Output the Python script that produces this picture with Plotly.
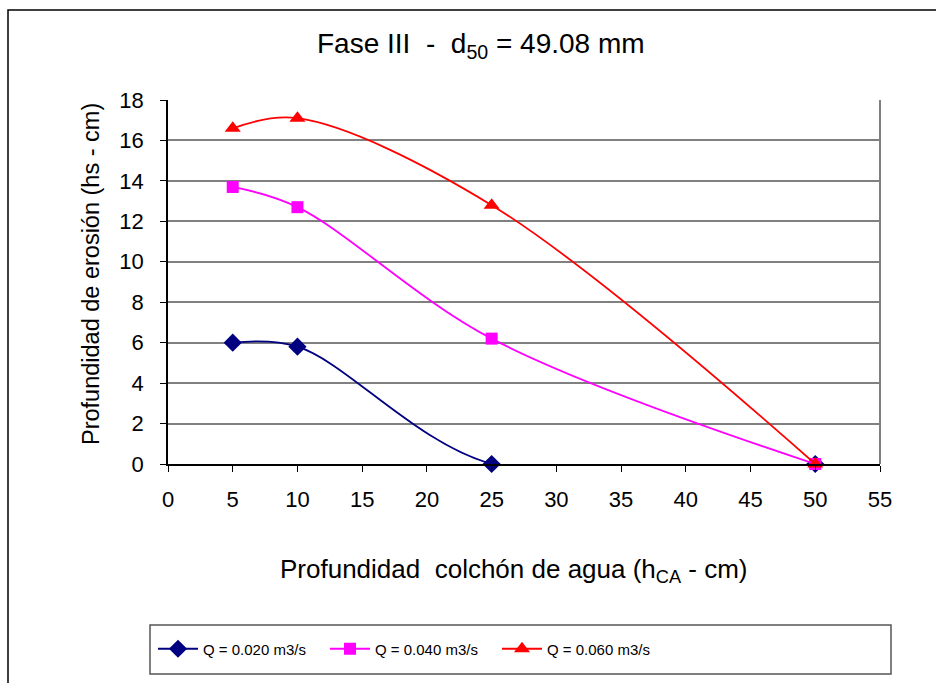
import plotly.graph_objects as go

x_vals = [5, 10, 25, 50]
q020 = [6.0, 5.8, 0.0, 0.0]
q040 = [13.7, 12.7, 6.2, 0.0]
q060 = [16.6, 17.1, 12.8, 0.0]
names = ["Q = 0.020 m3/s", "Q = 0.040 m3/s", "Q = 0.060 m3/s"]
colors = ["#000080", "#FF00FF", "#FF0000"]
symbols = ["diamond", "square", "triangle-up"]
sizes = [14, 12, 14]

W, H = 936, 683
L, R, T, B = 168, 880, 100, 464

def px(x):
    return (x - L) / (R - L)

def py(y):
    return (B - y) / (B - T)

fig = go.Figure()
for ys, n, c, s, sz in zip([q020, q040, q060], names, colors, symbols, sizes):
    fig.add_trace(go.Scatter(
        x=x_vals, y=ys, name=n, mode="lines+markers",
        line=dict(color=c, width=1.8, shape="spline", smoothing=1.0),
        marker=dict(symbol=s, size=sz, color=c),
        cliponaxis=False,
    ))

font = "Liberation Sans, Arial, sans-serif"
fig.update_layout(
    width=W, height=H,
    margin=dict(l=L, r=W - R, t=T, b=H - B),
    paper_bgcolor="white", plot_bgcolor="white",
    font=dict(family=font, size=22, color="black"),
    showlegend=True,
    legend=dict(
        orientation="h", x=px(153), y=py(649), xanchor="left", yanchor="middle",
        font=dict(size=15), entrywidth=117, entrywidthmode="pixels",
        bgcolor="rgba(0,0,0,0)", itemwidth=40, tracegroupgap=0,
    ),
    annotations=[
        dict(text="Fase III&nbsp; -&nbsp; d<sub>50</sub> = 49.08 mm", x=px(481), y=py(45),
             xref="paper", yref="paper", showarrow=False, font=dict(size=28),
             xanchor="center", yanchor="middle"),
        dict(text="Profundidad&nbsp; colchón de agua (h<sub>CA</sub> - cm)", x=px(514), y=py(570),
             xref="paper", yref="paper", showarrow=False, font=dict(size=26),
             xanchor="center", yanchor="middle"),
        dict(text="Profundidad de erosión (hs - cm)", x=px(91), y=py(274),
             xref="paper", yref="paper", showarrow=False, font=dict(size=23.5),
             textangle=-90, xanchor="center", yanchor="middle"),
    ],
    shapes=[
        dict(type="rect", xref="paper", yref="paper", x0=px(8), x1=px(960), y0=py(10), y1=py(720),
             line=dict(color="black", width=1.5), layer="below"),
        dict(type="rect", xref="paper", yref="paper", x0=px(150), x1=px(891), y0=py(625), y1=py(674),
             line=dict(color="#555555", width=1.5), layer="below"),
        dict(type="line", xref="paper", yref="paper", x0=1, x1=1, y0=0, y1=1,
             line=dict(color="#808080", width=2), layer="below"),
    ],
)
fig.update_xaxes(
    range=[0, 55], tickmode="linear", tick0=0, dtick=5,
    showline=True, linecolor="black", linewidth=1.5,
    ticks="outside", ticklen=6, tickcolor="black",
    showgrid=False, zeroline=False, tickfont=dict(size=22),
    ticklabelstandoff=9,
)
fig.update_yaxes(
    range=[0, 18], tickmode="linear", tick0=0, dtick=2,
    showline=True, linecolor="black", linewidth=1.5,
    ticks="outside", ticklen=6, tickcolor="black",
    showgrid=True, gridcolor="#808080", gridwidth=1.5,
    zeroline=False, tickfont=dict(size=22),
    ticklabelstandoff=12,
)
fig.write_html("out.html")
